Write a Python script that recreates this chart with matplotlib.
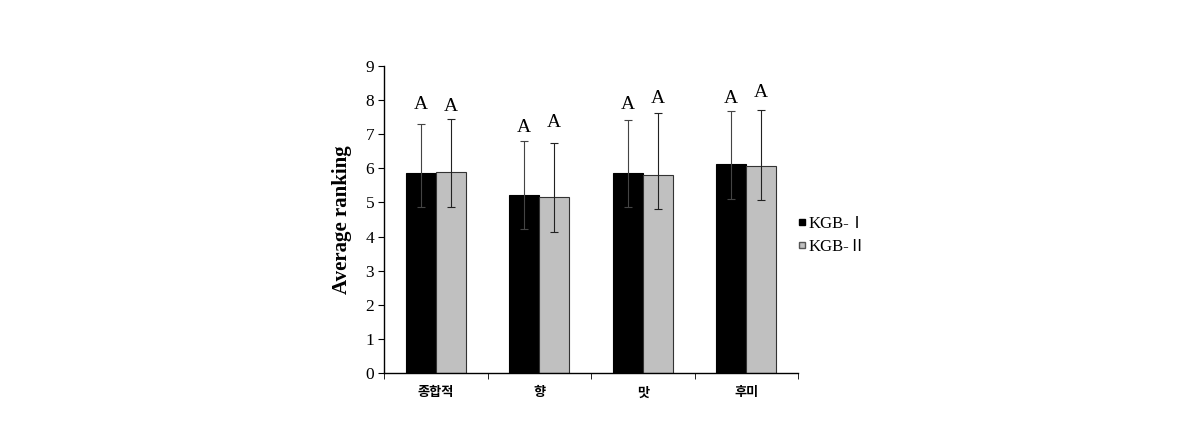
import numpy as np
import matplotlib.pyplot as plt
from matplotlib.lines import Line2D

# Data
categories = ["종합적", "향", "맛", "후미"]
kgb1_mean = [5.85, 5.23, 5.85, 6.12]
kgb1_low = [4.88, 4.22, 4.86, 5.10]
kgb1_high = [7.30, 6.81, 7.43, 7.69]
kgb2_mean = [5.88, 5.16, 5.81, 6.08]
kgb2_low = [4.88, 4.14, 4.81, 5.08]
kgb2_high = [7.45, 6.74, 7.62, 7.72]
letters1 = ["A", "A", "A", "A"]
letters2 = ["A", "A", "A", "A"]
letter1_y = [7.63, 6.96, 7.63, 7.79]
letter2_y = [7.55, 7.10, 7.79, 7.96]
series_names = ["KGB-Ⅰ", "KGB-Ⅱ"]

serif = ["Liberation Serif", "DejaVu Serif"]
korean = ["Noto Sans CJK KR", "DejaVu Sans"]

fig = plt.figure(figsize=(11.9, 4.46), dpi=100)
ax = fig.add_axes([0.3227, 0.1637, 0.3479, 0.6883])

x = np.arange(len(categories))
w = 0.29
m1 = np.array(kgb1_mean)
m2 = np.array(kgb2_mean)
err1 = [m1 - np.array(kgb1_low), np.array(kgb1_high) - m1]
err2 = [m2 - np.array(kgb2_low), np.array(kgb2_high) - m2]

ax.bar(x - w / 2, m1, w, color="black", edgecolor="black", linewidth=0.8)
ax.bar(x + w / 2, m2, w, color="#c0c0c0", edgecolor="#333333", linewidth=0.8)
ax.errorbar(x - w / 2, m1, yerr=err1, fmt="none", ecolor="#444444",
            elinewidth=0.8, capsize=3, capthick=0.8)
ax.errorbar(x + w / 2, m2, yerr=err2, fmt="none", ecolor="#222222",
            elinewidth=0.8, capsize=3, capthick=0.8)

for i in range(len(categories)):
    ax.text(x[i] - w / 2, letter1_y[i], letters1[i], ha="center", va="bottom",
            family=serif, fontsize=14)
    ax.text(x[i] + w / 2, letter2_y[i], letters2[i], ha="center", va="bottom",
            family=serif, fontsize=14)

ax.set_xlim(-0.5, 3.5)
ax.set_ylim(0, 9)
ax.set_yticks(range(10))
ax.set_yticklabels([str(v) for v in range(10)], family=serif, fontsize=12.5)
ax.set_xticks(x)
ax.set_xticklabels(categories, family=korean, fontsize=9.5, fontweight="bold")
ax.tick_params(axis="x", length=0, pad=9)
ax.set_xticks(np.arange(-0.5, 4.0, 1.0), minor=True)
ax.tick_params(axis="x", which="minor", length=4, direction="out")
ax.tick_params(axis="y", length=4, direction="out", pad=3)

ax.spines["top"].set_visible(False)
ax.spines["right"].set_visible(False)
ax.spines["left"].set_linewidth(1.0)
ax.spines["bottom"].set_linewidth(1.0)

ax.set_ylabel("Average ranking", family=serif, fontsize=15,
              fontweight="bold", labelpad=10)

handles = [
    Line2D([], [], marker="s", linestyle="none", markersize=5,
           markerfacecolor="black", markeredgecolor="black"),
    Line2D([], [], marker="s", linestyle="none", markersize=5,
           markerfacecolor="#c0c0c0", markeredgecolor="#555555"),
]
fig.legend(handles, series_names, loc="upper left",
           bbox_to_anchor=(0.657, 0.55), frameon=False,
           handlelength=0.6, handletextpad=0.1, labelspacing=0.45,
           prop={"family": ["Liberation Serif", "Noto Sans CJK KR"], "size": 12})

fig.savefig("out.png", dpi=100)
